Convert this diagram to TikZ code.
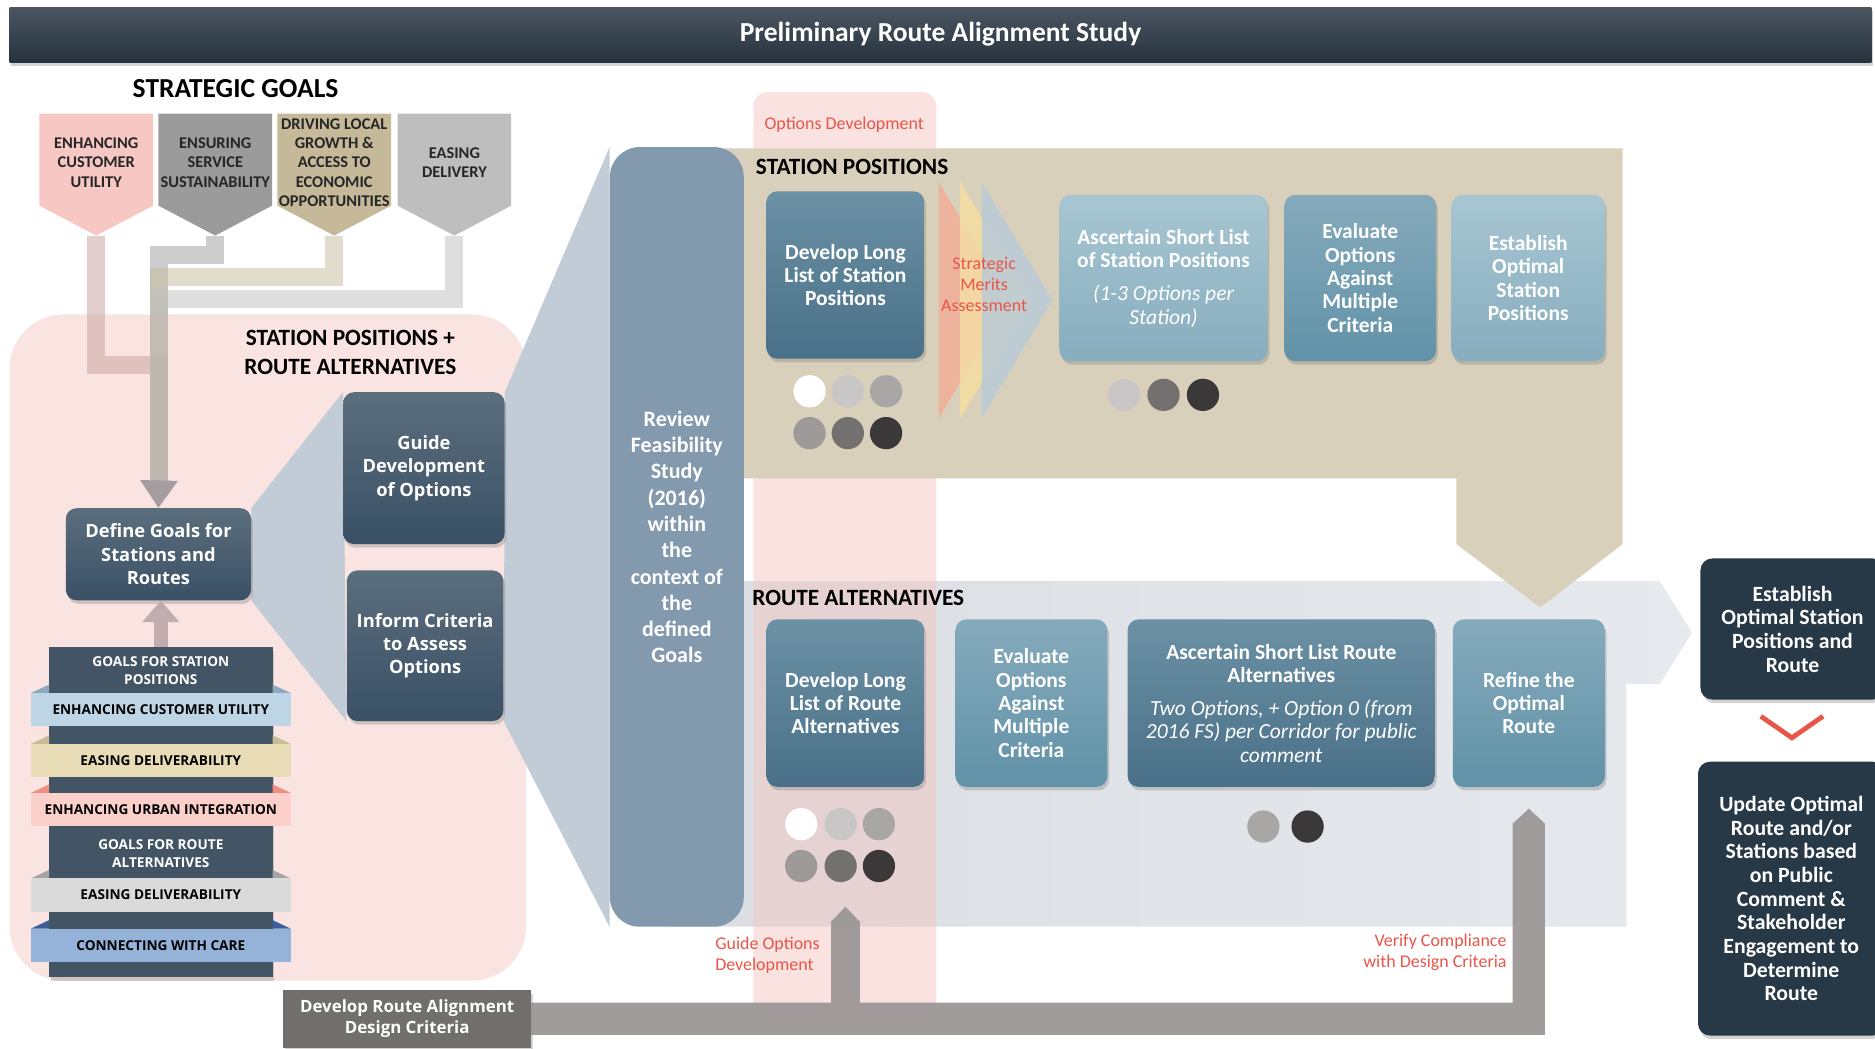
\documentclass[tikz,border=0pt]{standalone}
\usepackage{fontspec}
\setmainfont{Carlito}
\newfontfamily\osfont{Open Sans}
\usetikzlibrary{positioning,calc,shadows,backgrounds,arrows.meta}
\definecolor{barTop}{HTML}{4B5662}
\definecolor{barBot}{HTML}{26323D}
\definecolor{goalPink}{HTML}{F7C8C3}
\definecolor{goalGray}{HTML}{9B9B9B}
\definecolor{goalTan}{HTML}{C5B99A}
\definecolor{goalLight}{HTML}{BEBEBE}
\definecolor{pinkZone}{HTML}{FAE4E2}
\definecolor{routeL}{HTML}{DADEE3}
\definecolor{routeR}{HTML}{E6EAEE}
\definecolor{bandRose}{HTML}{F3C6C2}
\definecolor{tanZone}{HTML}{D9D0BB}
\definecolor{fanBlue}{HTML}{C2CCD6}
\definecolor{reviewCol}{HTML}{8299AE}
\definecolor{slateTop}{HTML}{5B6E7D}
\definecolor{slateBot}{HTML}{3A5065}
\definecolor{tealTop}{HTML}{6C91A5}
\definecolor{tealBot}{HTML}{497088}
\definecolor{midTop}{HTML}{86AABC}
\definecolor{midBot}{HTML}{6192A8}
\definecolor{paleTop}{HTML}{A8C6D2}
\definecolor{paleBot}{HTML}{86ADBE}
\definecolor{nightBox}{HTML}{273846}
\definecolor{redLab}{HTML}{E95548}
\definecolor{pipeGray}{HTML}{9C9797}
\definecolor{designGray}{HTML}{716E6E}
\definecolor{stackDark}{HTML}{435564}
\definecolor{headGray}{HTML}{A69DA0}
\definecolor{upGray}{HTML}{C1ACAF}
\definecolor{meritA}{HTML}{F2AE98}
\definecolor{meritB}{HTML}{F5DDA2}
\definecolor{meritC}{HTML}{BACBD8}
\definecolor{bandBlue}{HTML}{BDD5E4}
\definecolor{foldBlue}{HTML}{8FA8BE}
\definecolor{bandTan}{HTML}{E8DCB7}
\definecolor{foldTan}{HTML}{C8BB95}
\definecolor{bandPink}{HTML}{FCD0CA}
\definecolor{foldPink}{HTML}{EF8F81}
\definecolor{bandGray}{HTML}{DADADA}
\definecolor{foldGray}{HTML}{A5A5A5}
\definecolor{bandCare}{HTML}{95B3D8}
\definecolor{foldCare}{HTML}{3D5D9B}
\definecolor{dotA}{HTML}{FFFFFF}
\definecolor{dotB}{HTML}{C8C6C6}
\definecolor{dotC}{HTML}{A9A6A6}
\definecolor{dotD}{HTML}{9E9A9A}
\definecolor{dotE}{HTML}{737070}
\definecolor{dotF}{HTML}{3A3838}
\newcommand{\noteit}[1]{{\mdseries\itshape #1}}
\tikzset{
	boxshadow/.style={drop shadow={shadow xshift=1.5pt,shadow yshift=-3pt,opacity=.35}},
	titlebar/.style={top color=barTop, bottom color=barBot, minimum width=1557pt, minimum height=46pt,
		text=white, font=\fontsize{23}{26}\selectfont\bfseries, boxshadow},
	goaltext/.style={align=center, text=black!85, font=\fontsize{13.7}{16}\selectfont\bfseries},
	pipe/.style={line width=15pt, opacity=.5},
	slatebox/.style={rounded corners=9pt, top color=slateTop, bottom color=slateBot, text=white,
		align=center, font=\osfont\fontsize{15.3}{19.5}\selectfont\bfseries, boxshadow},
	stepbox/.style={rounded corners=9pt, text=white, align=center, minimum height=140pt, inner sep=2pt,
		font=\fontsize{18}{19.5}\selectfont\bfseries, boxshadow},
	tealbox/.style={stepbox, top color=tealTop, bottom color=tealBot},
	midbox/.style={stepbox, top color=midTop, bottom color=midBot},
	palebox/.style={stepbox, top color=paleTop, bottom color=paleBot},
	nightbox/.style={rounded corners=10pt, fill=nightBox, text=white, align=center,
		font=\fontsize{18.2}{19.8}\selectfont\bfseries, boxshadow},
	zonelabel/.style={anchor=west, inner sep=0, font=\fontsize{19.5}{24}\selectfont\bfseries},
	redlabel/.style={text=redLab, inner sep=0, font=\fontsize{15}{17.5}\selectfont},
	graypipe/.style={draw=pipeGray, -{Triangle[width=0pt 1, length=13pt]}},
	stacktitle/.style={text=white, align=center, inner sep=0, font=\osfont\fontsize{11.4}{15.5}\selectfont\bfseries},
	band/.style={minimum width=217pt, minimum height=28pt, inner sep=0, font=\osfont\fontsize{11.4}{12}\selectfont\bfseries}
}

\begin{document}
\begin{tikzpicture}[x=1pt,y=-1pt]
	\path[use as bounding box] (0,0) rectangle (1568,877);
	\clip (0,0) rectangle (1568,877);
	\node[titlebar] (title) at (786.5,29) {Preliminary Route Alignment Study};

	% strategic goals
	\node[font=\fontsize{23}{26}\selectfont\bfseries] (sgoals) at (197,74) {STRATEGIC GOALS};
	\foreach \gx/\gc/\gt [count=\gi] in {80.5/goalPink/{ENHANCING\\CUSTOMER\\UTILITY},
		180/goalGray/{ENSURING\\SERVICE\\SUSTAINABILITY},
		279.5/goalTan/{DRIVING LOCAL\\GROWTH \&\\ACCESS TO\\ECONOMIC\\OPPORTUNITIES},
		380/goalLight/{EASING\\DELIVERY}} {
		\fill[\gc] (\gx-47.5,95) -- (\gx+47.5,95) -- (\gx+47.5,172) -- (\gx,197) -- (\gx-47.5,172) -- cycle;
		\node[goaltext] (goal\gi) at (\gx,136) {\gt};
		\coordinate (tip\gi) at (\gx,197);
	}

	% left zone boxes
	\node[zonelabel, anchor=center, align=center] (sprazone) at (293,295) {STATION POSITIONS +\\ROUTE ALTERNATIVES};
	\node[slatebox, minimum width=155pt, minimum height=77pt] (define) at (132.5,463.5) {Define Goals for\\Stations and\\Routes};
	\node[slatebox, minimum width=135pt, minimum height=127pt] (guide) at (354.5,391.5) {Guide\\Development\\of Options};
	\node[slatebox, minimum width=131pt, minimum height=126pt] (inform) at (355.5,540) {Inform Criteria\\to Assess\\Options};

	\coordinate (j2) at (133,213);
	\coordinate (j3) at (133,232);
	\coordinate (j4) at (133,250);
	\coordinate (j1) at (133,305);
	\coordinate (headbase) at (133,402);
	\draw[pipe, goalPink!80!black] (tip1) |- (j1) -- (headbase);
	\draw[pipe, goalGray] (tip2) |- (j2) -- (headbase);
	\draw[pipe, goalTan] (tip3) |- (j3) -- (headbase);
	\draw[pipe, goalLight] (tip4) |- (j4) -- (headbase);
	\draw[line width=13pt, headGray, -{Triangle[width=30pt,length=23pt]}] (headbase) -- (define.north);

	% review column
	\node[rounded corners=25pt, fill=reviewCol, minimum width=112pt, minimum height=652pt, text=white,
		align=center, font=\fontsize{18.4}{22}\selectfont\bfseries] (review) at (566,449)
		{Review\\Feasibility\\Study\\(2016)\\within\\the\\context of\\the\\defined\\Goals};

	% station positions
	\node[zonelabel] (spzone) at (632,140) {STATION POSITIONS};
	\node[tealbox, minimum width=132pt] (devstat) at (707,230) {Develop Long\\List of Station\\Positions};
	\foreach \cx/\cc in {785/meritA, 803/meritB, 821/meritC}
		\fill[\cc, fill opacity=.85] (\cx,152) -- (\cx+59,251) -- (\cx,350) -- cycle;
	\node[redlabel, align=center] (meritlab) at (823,238) {Strategic\\Merits\\Assessment};
	\node[palebox, minimum width=174pt, minimum height=139pt] (shortstat) at (973,232.5)
		{Ascertain Short List\\of Station Positions\\[8.5pt]\noteit{(1-3 Options per}\\\noteit{Station)}};
	\node[midbox, minimum width=127pt, minimum height=139pt] (evalstat) at (1137.5,232.5) {Evaluate\\Options\\Against\\Multiple\\Criteria};
	\node[palebox, minimum width=128pt, minimum height=139pt] (beststat) at (1278,232.5) {Establish\\Optimal\\Station\\Positions};

	% route alternatives
	\node[zonelabel] (razone) at (629,500) {ROUTE ALTERNATIVES};
	\node[tealbox, minimum width=132pt] (devroute) at (707,588) {Develop Long\\List of Route\\Alternatives};
	\node[midbox, minimum width=127pt] (evalroute) at (862.5,588) {Evaluate\\Options\\Against\\Multiple\\Criteria};
	\node[tealbox, minimum width=257pt] (shortroute) at (1071.5,588)
		{Ascertain Short List Route\\Alternatives\\[8pt]\noteit{Two Options, + Option 0 (from}\\\noteit{2016 FS) per Corridor for public}\\\noteit{comment}};
	\node[midbox, minimum width=127pt] (refine) at (1278.5,588) {Refine the\\Optimal\\Route};

	% option dots
	\foreach \dx/\dy/\dc in {-30/27/dotA, 2/27/dotB, 34/27/dotC, -30/62/dotD, 2/62/dotE, 34/62/dotF}
		\fill[\dc] ($(devstat.south)+(\dx,\dy)$) circle (13.5);
	\foreach \dx/\dy/\dc in {-37/31/dotA, -4/31/dotB, 28/31/dotC, -37/66/dotD, -4/66/dotE, 28/66/dotF}
		\fill[\dc] ($(devroute.south)+(\dx,\dy)$) circle (13.5);
	\foreach \dx/\dc in {-33/dotB, 0/dotE, 33/dotF}
		\fill[\dc] ($(shortstat.south)+(\dx,28)$) circle (13.5);
	\foreach \dx/\dc in {-15/dotC, 22/dotF}
		\fill[\dc] ($(shortroute.south)+(\dx,33)$) circle (13.5);

	% design criteria feed
	\node[fill=designGray, minimum width=207pt, minimum height=48pt, text=white, align=center,
		font=\osfont\fontsize{14.1}{18}\selectfont\bfseries, boxshadow] (design) at (340.5,852) {Develop Route Alignment\\Design Criteria};
	\coordinate (fork) at (devroute.south |- design.east);
	\begin{scope}[transparency group, opacity=.95]
		\draw[graypipe, line width=27pt] (design.east) -| ($(refine.south)+(0,18)$);
		\draw[graypipe, line width=24pt] (fork) -- ($(devroute.south)+(0,100)$);
	\end{scope}
	\node[redlabel, align=left, anchor=west] (guidelab) at (598,799) {Guide Options\\Development};
	\node[redlabel, align=right, anchor=east] (verifylab) at (1260,796.5) {Verify Compliance\\with Design Criteria};
	\node[redlabel] (optlab) at (706,104) {Options Development};

	% outcome
	\node[nightbox, minimum width=154pt, minimum height=118pt] (estab) at (1499,526) {Establish\\Optimal Station\\Positions and\\Route};
	\node[nightbox, minimum width=156pt, minimum height=229pt] (update) at (1498,751.5)
		{Update Optimal\\Route and/or\\Stations based\\on Public\\Comment \&\\Stakeholder\\Engagement to\\Determine\\Route};
	\coordinate (vmid) at ($(estab.south)!.5!(update.north)$);
	\draw[redLab, line width=4pt] ($(vmid)+(-26,-12)$) -- ($(vmid)+(0,6)$) -- ($(vmid)+(26,-12)$);

	% goal stack
	\node[fill=stackDark, minimum width=187pt, minimum height=276pt, boxshadow] (stack) at (134.5,679) {};
	\node[stacktitle] (stationgoals) at (134.5,561) {GOALS FOR STATION\\POSITIONS};
	\node[stacktitle] (routegoals) at (134.5,714) {GOALS FOR ROUTE\\ALTERNATIVES};
	\foreach \by/\bc/\fc/\bt [count=\bi] in {593.5/bandBlue/foldBlue/{ENHANCING CUSTOMER UTILITY},
		636/bandTan/foldTan/{EASING DELIVERABILITY},
		677/bandPink/foldPink/{ENHANCING URBAN INTEGRATION},
		748.5/bandGray/foldGray/{EASING DELIVERABILITY},
		790.5/bandCare/foldCare/{CONNECTING WITH CARE}} {
		\fill[\fc] (26,\by-14) -- (41,\by-21) -- (41,\by-14) -- cycle;
		\fill[\fc] (243,\by-14) -- (228,\by-21) -- (228,\by-14) -- cycle;
		\node[band, fill=\bc] (band\bi) at (134.5,\by) {\bt};
	}
	\draw[line width=12pt, upGray, -{Triangle[width=30pt,length=18pt]}] (stack.north) -- (stack.north |- define.south);

	% zones and fans behind
	\begin{scope}[on background layer]
		\fill[pinkZone, rounded corners=45pt] (8,263) rectangle (440,820);
		\path[left color=routeL, right color=routeR] (560,486) -- (1388,486) -- (1415,529) -- (1388,572)
			-- (1360,572) -- (1360,775) -- (560,775) -- cycle;
		\fill[bandRose, fill opacity=.5, rounded corners=12pt] (630,77) rectangle (783,850);
		\fill[tanZone] (560,124) -- (1357,124) -- (1357,455) -- (1288,508) -- (1218,455) -- (1218,400) -- (560,400) -- cycle;
		\fill[fanBlue] (define.north east) -- (guide.north west) -- (inform.south west) -- (define.south east) -- cycle;
		\fill[fanBlue] (guide.north east) -- (review.north west) -- (review.south west) -- (inform.south east) -- cycle;
	\end{scope}
\end{tikzpicture}
\end{document}
